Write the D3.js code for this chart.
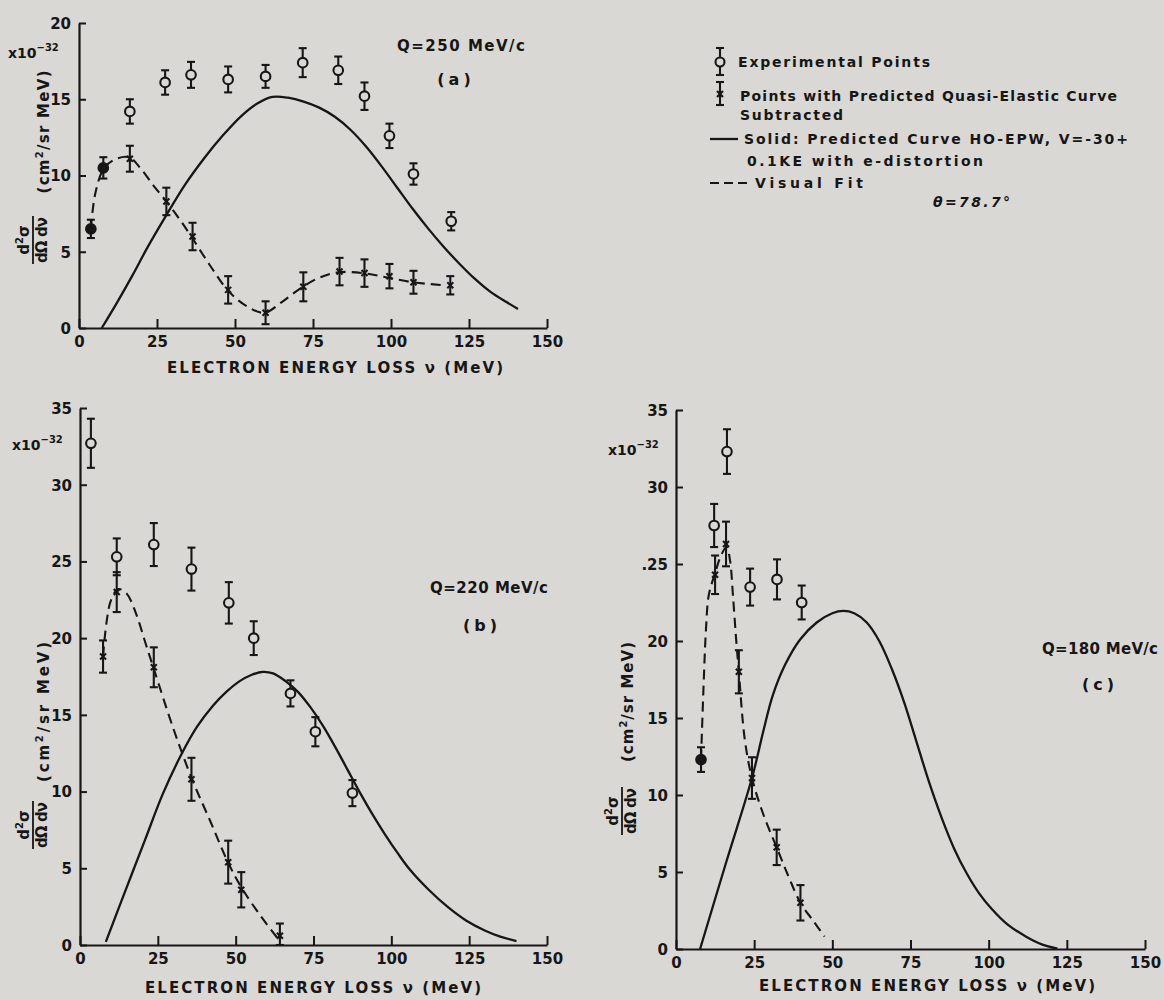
<!DOCTYPE html>
<html><head><meta charset="utf-8">
<script src="https://cdn.jsdelivr.net/npm/d3@7"></script>
<style>
body{margin:0;background:#dad8d4;}
svg{display:block;}
text{font-family:"DejaVu Sans",sans-serif;font-weight:bold;fill:#161616;}
</style>
</head><body>
<svg id="chart" width="1164" height="1000"></svg>
<script>
// ---------- DATA ----------
const xTickValues = [0,25,50,75,100,125,150];
const xTickLabels = ["0","25","50","75","100","125","150"];
const yTickValuesA = [0,5,10,15,20];
const yTickLabelsA = ["0","5","10","15","20"];
const yTickValuesBC = [0,5,10,15,20,25,30,35];
const yTickLabelsB = ["0","5","10","15","20","25","30","35"];
const yTickLabelsC = ["0","5","10","15","20",".25","30","35"];

// [nu (MeV), d2sigma (1e-32 cm2/sr MeV), error]
const expA = [[16.3,14.2,0.8],[27.6,16.1,0.8],[35.9,16.6,0.85],[47.8,16.3,0.85],[59.8,16.5,0.75],[71.7,17.4,0.95],[83.1,16.9,0.9],[91.5,15.2,0.9],[99.5,12.6,0.8],[107.2,10.1,0.7],[119.3,7.0,0.6]];
const subA = [[16.3,11.1,0.85],[28,8.3,0.9],[36.4,6.0,0.9],[47.8,2.5,0.9],[59.8,1.0,0.75],[71.9,2.7,0.95],[83.5,3.7,0.9],[91.5,3.6,0.9],[99.5,3.4,0.8],[107.2,3.0,0.75],[119,2.8,0.6]];
const bothA = [[3.8,6.5,0.6],[7.8,10.5,0.7]];
const dashA = [[3.8,6.5],[5.2,8.8],[7.8,10.4],[11,11.0],[16,11.2],[20,10.4],[24,9.3],[28,8.3],[32,7.2],[36,6.0],[42,4.1],[48,2.4],[54,1.4],[59.5,1.0],[65,1.7],[71,2.6],[77,3.3],[83,3.65],[91,3.6],[99,3.3],[107,3.0],[117,2.8]];
const solidA = [[7.3,0],[12,1.6],[17,3.4],[22,5.3],[28,7.4],[34,9.4],[40,11.1],[46,12.6],[52,13.9],[57,14.7],[62,15.15],[67,15.1],[72,14.85],[77,14.45],[82,13.85],[87,13.0],[92,11.9],[97,10.6],[102,9.2],[107,7.8],[112,6.5],[117,5.3],[122,4.2],[127,3.2],[132,2.35],[137,1.7],[140.7,1.25]];

const expB = [[3.5,32.7,1.6],[11.8,25.3,1.2],[23.7,26.1,1.4],[35.8,24.5,1.4],[47.8,22.3,1.35],[55.8,20.0,1.1],[67.6,16.4,0.85],[75.6,13.9,0.95],[87.5,9.9,0.85]];
const subB = [[7.4,18.8,1.05],[11.8,23.0,1.3],[23.7,18.1,1.3],[35.8,10.8,1.4],[47.6,5.4,1.4],[51.8,3.6,1.15],[64.2,0.6,0.8]];
const bothB = [];
const dashB = [[7.4,18.8],[8.5,21.0],[10,22.5],[12.3,23.2],[15,22.9],[18,21.6],[21,19.7],[23.7,18.0],[30,14.1],[36,10.8],[42,8.0],[47.5,5.4],[52,3.7],[58,1.9],[64,0.3]];
const solidB = [[8.3,0.2],[14.5,3.5],[20.8,6.8],[26.5,9.8],[32.5,12.4],[37.5,14.2],[42.7,15.6],[47,16.5],[51.3,17.2],[55,17.6],[58.7,17.8],[62,17.7],[66,17.2],[70,16.5],[74,15.5],[78,14.3],[82,12.9],[86,11.4],[90,9.9],[94,8.5],[98,7.2],[102,6.0],[106,4.9],[112,3.6],[118,2.5],[124,1.6],[130,0.95],[135,0.55],[140.2,0.26]];

const expC = [[12.2,27.5,1.4],[16.3,32.3,1.45],[23.7,23.5,1.2],[32.3,24.0,1.3],[40.2,22.5,1.1]];
const subC = [[12.5,24.3,1.25],[16.0,26.3,1.45],[20.1,18.0,1.4],[24.3,11.1,1.35],[32.2,6.6,1.15],[39.8,3.0,1.15]];
const bothC = [[8.0,12.3,0.8]];
const dashC = [[8,12.3],[8.8,17],[9.6,20.8],[10.5,23],[12.5,24.4],[14.5,25.6],[16.2,26.1],[17.3,25.2],[18.2,23],[19.2,20.2],[20.1,18],[22,13.6],[24.3,11.1],[28,8.7],[32.2,6.6],[36,4.7],[39.8,3.0],[44,1.8],[47.5,0.8]];
const solidC = [[7.7,0],[16,5.6],[24.3,11.1],[28,14.2],[31,16.5],[35,18.5],[39.7,20.1],[45,21.2],[50,21.8],[53.5,21.95],[57,21.8],[61,21.2],[65,20.0],[69,18.2],[73,16.0],[77,13.4],[81,10.8],[85,8.5],[89,6.5],[93,4.9],[97,3.6],[101,2.6],[106,1.6],[112,0.8],[117,0.3],[122,0.02]];

const legendLabels = ["Experimental Points","Points with Predicted Quasi-Elastic Curve","Subtracted","Solid: Predicted Curve HO-EPW, V=-30+","0.1KE with e-distortion","Visual Fit"];
const angleLabel = "θ=78.7°";
const xTitle = "ELECTRON ENERGY LOSS ν (MeV)";
const panelQ = ["Q=250 MeV/c","Q=220 MeV/c","Q=180 MeV/c"];
const panelTag = ["(a)","(b)","(c)"];

// ---------- LAYOUT ----------
const INK = "#161616", BG = "#dad8d4";
const svg = d3.select("#chart");
svg.append("rect").attr("width",1164).attr("height",1000).attr("fill",BG);

const panels = [
  {x0:79,x1:547,y0:328,yT:23,ymax:20,yt:yTickValuesA,yl:yTickLabelsA,exp:expA,sub:subA,both:bothA,dash:dashA,solid:solidA,
   title:{x:167,y:373}, q:{x:397,y:51,w:128}, tag:{x:456,y:85},
   exp32:{x:8,y:58}, paren:{x:44,y:132,len:123}, frac:{x:33,y:240}},
  {x0:80,x1:547,y0:945,yT:408,ymax:35,yt:yTickValuesBC,yl:yTickLabelsB,exp:expB,sub:subB,both:bothB,dash:dashB,solid:solidB,
   title:{x:145,y:993}, q:{x:430,y:593,w:118}, tag:{x:482,y:631},
   exp32:{x:12,y:450}, paren:{x:44,y:712,len:140}, frac:{x:33,y:825}},
  {x0:676,x1:1145,y0:949,yT:410,ymax:35,yt:yTickValuesBC,yl:yTickLabelsC,exp:expC,sub:subC,both:bothC,dash:dashC,solid:solidC,
   title:{x:759,y:991}, q:{x:1042,y:654,w:116}, tag:{x:1100,y:690},
   exp32:{x:608,y:455}, paren:{x:628,y:702,len:120}, frac:{x:622,y:811}}
];

function errPoint(g, cx, cyTop, cyBot){
  g.append("line").attr("x1",cx).attr("x2",cx).attr("y1",cyTop).attr("y2",cyBot);
  g.append("line").attr("x1",cx-4).attr("x2",cx+4).attr("y1",cyTop).attr("y2",cyTop);
  g.append("line").attr("x1",cx-4).attr("x2",cx+4).attr("y1",cyBot).attr("y2",cyBot);
}

panels.forEach((p,i)=>{
  const x = d3.scaleLinear().domain([0,150]).range([p.x0,p.x1]);
  const y = d3.scaleLinear().domain([0,p.ymax]).range([p.y0,p.yT]);
  const g = svg.append("g");

  // axes
  const ax = g.append("g").attr("transform",`translate(0,${p.y0})`)
    .call(d3.axisBottom(x).tickValues(xTickValues).tickFormat((d,k)=>xTickLabels[k]).tickSizeInner(-9).tickSizeOuter(0).tickPadding(8));
  const ay = g.append("g").attr("transform",`translate(${p.x0},0)`)
    .call(d3.axisLeft(y).tickValues(p.yt).tickFormat((d,k)=>p.yl[k]).tickSizeInner(-7).tickSizeOuter(0).tickPadding(8));
  [ax,ay].forEach(a=>{
    a.attr("font-family",null).attr("font-size",null);
    a.select(".domain").attr("stroke",INK).attr("stroke-width",2.2);
    a.selectAll(".tick line").attr("stroke",INK).attr("stroke-width",2);
    a.selectAll(".tick text").attr("fill",INK).style("font-size","15px");
  });
  ay.selectAll(".tick text").attr("dy","0.36em");

  // axis title
  g.append("text").attr("x",p.title.x).attr("y",p.title.y).style("font-size","15px")
    .attr("textLength",336).attr("lengthAdjust","spacing").text(xTitle);

  // x10^-32
  const e = g.append("text").attr("x",p.exp32.x).attr("y",p.exp32.y).style("font-size","14px");
  e.append("tspan").text("x10");
  e.append("tspan").attr("dy",-7).style("font-size","10px").text("−32");

  // y label: fraction and units, rotated
  const fr = g.append("g").attr("transform",`translate(${p.frac.x},${p.frac.y}) rotate(-90)`);
  const ft = fr.append("text").attr("text-anchor","middle").attr("y",-4).style("font-size","15px");
  ft.append("tspan").text("d");
  ft.append("tspan").attr("dy",-6).style("font-size","10px").text("2");
  ft.append("tspan").attr("dy",6).text("σ");
  fr.append("line").attr("x1",-24).attr("x2",24).attr("y1",0).attr("y2",0).attr("stroke",INK).attr("stroke-width",1.8);
  fr.append("text").attr("text-anchor","middle").attr("y",14).style("font-size","15px")
    .attr("textLength",46).attr("lengthAdjust","spacing").text("dΩ dν");
  const pr = g.append("g").attr("transform",`translate(${p.paren.x},${p.paren.y}) rotate(-90)`);
  const pt = pr.append("text").attr("text-anchor","middle").attr("dy","0.36em").style("font-size","15px")
    .attr("textLength",p.paren.len).attr("lengthAdjust","spacing");
  pt.append("tspan").text("(cm");
  pt.append("tspan").attr("dy",-6).style("font-size","10px").text("2");
  pt.append("tspan").attr("dy",6).text("/sr MeV)");

  // panel labels
  g.append("text").attr("x",p.q.x).attr("y",p.q.y).style("font-size","15px")
    .attr("textLength",p.q.w).attr("lengthAdjust","spacing").text(panelQ[i]);
  g.append("text").attr("x",p.tag.x).attr("y",p.tag.y).attr("text-anchor","middle").style("font-size","16px")
    .style("letter-spacing","4px").text(panelTag[i]);

  // curves
  const line = d3.line().x(d=>x(d[0])).y(d=>y(d[1])).curve(d3.curveCatmullRom.alpha(0.5));
  g.append("path").datum(p.solid).attr("d",line).attr("fill","none").attr("stroke",INK).attr("stroke-width",2.3);
  g.append("path").datum(p.dash).attr("d",line).attr("fill","none").attr("stroke",INK).attr("stroke-width",2.1)
    .attr("stroke-dasharray","10,6");

  // points
  const pg = g.append("g").attr("stroke",INK).attr("stroke-width",2.1);
  p.exp.forEach(d=>{
    errPoint(pg, x(d[0]), y(d[1]+d[2]), y(d[1]-d[2]));
    pg.append("circle").attr("cx",x(d[0])).attr("cy",y(d[1])).attr("r",4.8).attr("fill",BG);
  });
  p.both.forEach(d=>{
    errPoint(pg, x(d[0]), y(d[1]+d[2]), y(d[1]-d[2]));
    pg.append("circle").attr("cx",x(d[0])).attr("cy",y(d[1])).attr("r",4.8).attr("fill",INK);
  });
  p.sub.forEach(d=>{
    const lo = Math.max(0,d[1]-d[2]);
    errPoint(pg, x(d[0]), y(d[1]+d[2]), y(lo));
    const cx=x(d[0]), cy=y(d[1]);
    pg.append("line").attr("x1",cx-3).attr("x2",cx+3).attr("y1",cy-3).attr("y2",cy+3);
    pg.append("line").attr("x1",cx-3).attr("x2",cx+3).attr("y1",cy+3).attr("y2",cy-3);
  });
});

// ---------- LEGEND ----------
const lg = svg.append("g");
const ls = lg.append("g").attr("stroke",INK).attr("stroke-width",2.1);
errPoint(ls, 720, 48, 75);
ls.append("circle").attr("cx",720).attr("cy",62).attr("r",4.5).attr("fill",BG);
errPoint(ls, 720, 82, 105);
ls.append("line").attr("x1",717).attr("x2",723).attr("y1",91).attr("y2",97);
ls.append("line").attr("x1",717).attr("x2",723).attr("y1",97).attr("y2",91);
ls.append("line").attr("x1",710).attr("x2",738).attr("y1",139).attr("y2",139).attr("stroke-width",2.3);
ls.append("line").attr("x1",710).attr("x2",748).attr("y1",183).attr("y2",183).attr("stroke-dasharray","9,5");

const legendPos = [[738,67,192],[740,101,377],[740,120,103],[744,144,384],[747,166,236],[755,188,108]];
legendLabels.forEach((t,k)=>{
  lg.append("text").attr("x",legendPos[k][0]).attr("y",legendPos[k][1]).style("font-size","14px")
    .attr("textLength",legendPos[k][2]).attr("lengthAdjust","spacing").text(t);
});
lg.append("text").attr("x",933).attr("y",207).style("font-size","14px").attr("textLength",77)
  .attr("lengthAdjust","spacing").style("font-style","italic").text(angleLabel);
</script>
</body></html>
